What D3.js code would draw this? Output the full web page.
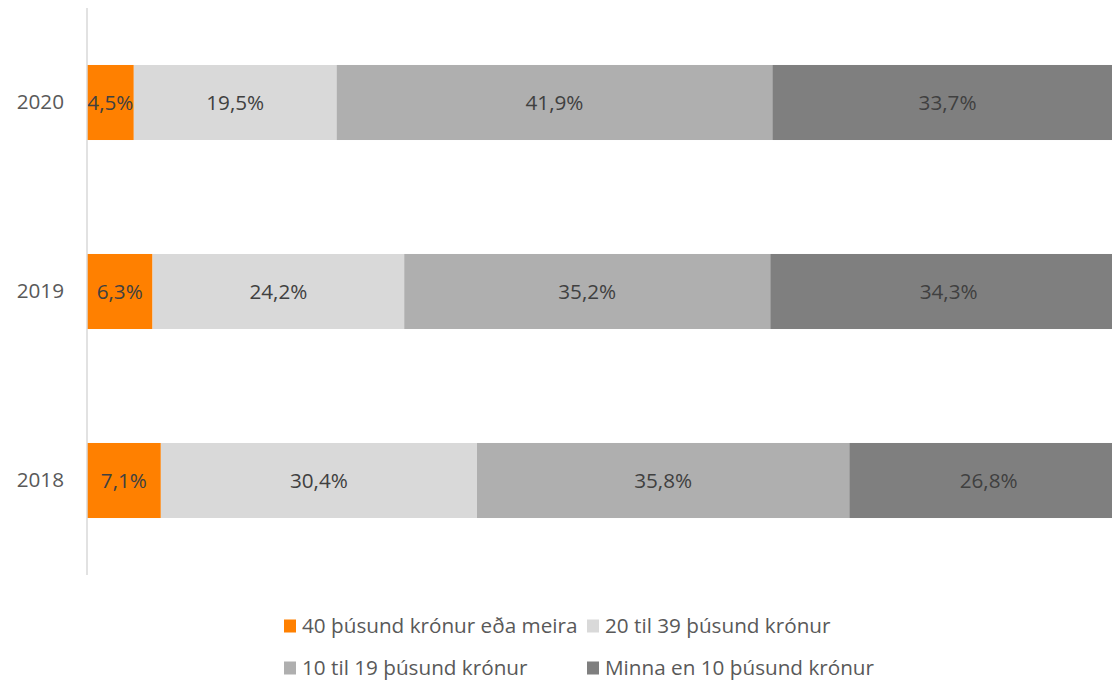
<!DOCTYPE html>
<html>
<head>
<meta charset="utf-8">
<script src="https://cdn.jsdelivr.net/npm/d3@7"></script>
<style>
  html, body { margin: 0; padding: 0; background: #fff; }
  svg { display: block; font-family: "Open Sans", "DejaVu Sans", sans-serif; }
</style>
</head>
<body>
<svg id="chart" width="1112" height="682"></svg>
<script>
// Years shown top to bottom
const years = ["2020", "2019", "2018"];
// Share of each income group per year (%)
const series40plus = [4.5, 6.3, 7.1];
const series20to39 = [19.5, 24.2, 30.4];
const series10to19 = [41.9, 35.2, 35.8];
const seriesUnder10 = [33.7, 34.3, 26.8];
const seriesNames = [
  "40 þúsund krónur eða meira",
  "20 til 39 þúsund krónur",
  "10 til 19 þúsund krónur",
  "Minna en 10 þúsund krónur"
];
const seriesColors = ["#FF8000", "#D9D9D9", "#AFAFAF", "#7F7F7F"];

const seriesValues = [series40plus, series20to39, series10to19, seriesUnder10];
const rows = years.map((y, i) => {
  const r = { year: y };
  seriesNames.forEach((n, k) => r[n] = seriesValues[k][i]);
  return r;
});

const svg = d3.select("#chart");
const FONT = 20.7;

// Axis runs a little past the visible right edge
const x = d3.scaleLinear().domain([0, 100]).range([87, 1127]);
const y = d3.scaleBand().domain(years).range([8, 575]).paddingInner(0.603).paddingOuter(0.3015);

const stack = d3.stack().keys(seriesNames);
const layers = stack(rows);

const fmt = v => d3.format(".1f")(v).replace(".", ",") + "%";

const g = svg.append("g");
layers.forEach((layer, k) => {
  const lg = g.append("g");
  lg.selectAll("rect").data(layer).join("rect")
    .attr("x", d => x(d[0]))
    .attr("y", d => y(d.data.year))
    .attr("width", d => x(d[1]) - x(d[0]))
    .attr("height", y.bandwidth())
    .attr("fill", seriesColors[k]);
  lg.selectAll("text").data(layer).join("text")
    .attr("x", d => (x(d[0]) + x(d[1])) / 2)
    .attr("y", d => y(d.data.year) + y.bandwidth() / 2)
    .attr("dy", "0.36em")
    .attr("text-anchor", "middle")
    .attr("font-size", FONT)
    .attr("fill", "#404040")
    .text(d => fmt(d[1] - d[0]));
});

// Category axis
const yAxis = svg.append("g")
  .attr("transform", `translate(${x(0)},0)`)
  .call(d3.axisLeft(y).tickSize(0).tickPadding(23));
yAxis.select(".domain").attr("stroke", "#D9D9D9").attr("stroke-width", 1.5)
  .attr("d", "M0,8V575");
yAxis.selectAll("text")
  .attr("font-size", FONT)
  .attr("fill", "#595959")
  .attr("font-family", "\"Open Sans\", sans-serif");

// Legend
const legendItems = [
  { name: seriesNames[0], color: seriesColors[0], x: 284, y: 626 },
  { name: seriesNames[1], color: seriesColors[1], x: 587, y: 626 },
  { name: seriesNames[2], color: seriesColors[2], x: 284, y: 668 },
  { name: seriesNames[3], color: seriesColors[3], x: 587, y: 668 }
];
const lg = svg.append("g");
const item = lg.selectAll("g").data(legendItems).join("g")
  .attr("transform", d => `translate(${d.x},${d.y})`);
item.append("rect")
  .attr("x", 0).attr("y", -6.5).attr("width", 12).attr("height", 13)
  .attr("fill", d => d.color);
item.append("text")
  .attr("x", 18).attr("y", 0).attr("dy", "0.36em")
  .attr("font-size", FONT)
  .attr("fill", "#595959")
  .text(d => d.name);
</script>
</body>
</html>
